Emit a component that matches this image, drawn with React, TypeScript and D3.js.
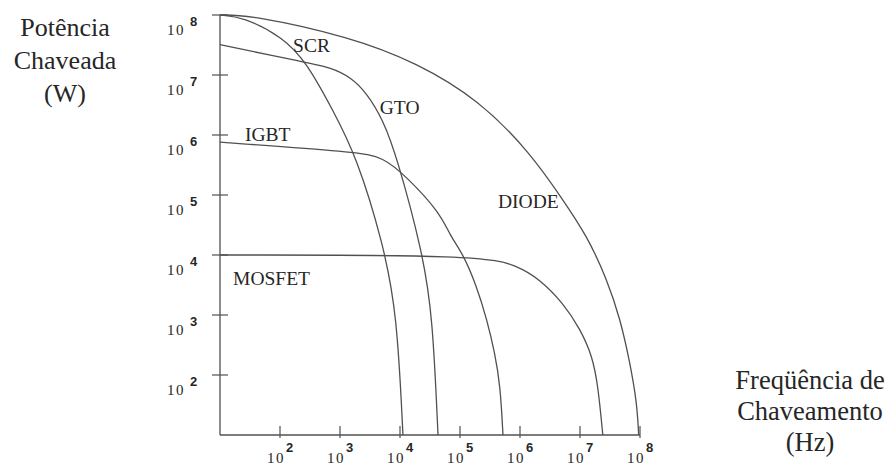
import React, { useRef, useEffect } from "react";
import * as d3 from "d3";

// values (frequency in Hz, switched power in W)
const diodeFreq = [10, 32, 1.5e3, 1.9e4, 2.1e5, 1.5e6, 5.2e6, 1.3e7, 2.8e7, 4.7e7, 6.8e7, 8.9e7, 9.5e7];
const diodePower = [1e8, 1e8, 4.3e7, 1.6e7, 3.8e6, 5e5, 8.3e4, 2.1e4, 4e3, 850, 160, 34, 10];

const scrFreq = [10, 24, 112, 280, 760, 1.9e3, 5.2e3, 8.9e3, 1.12e4];
const scrPower = [1e8, 9.3e7, 4.3e7, 1.6e7, 2.6e6, 4.3e5, 1.6e4, 1.07e3, 10];

const gtoFreq = [10, 280, 680, 1.5e3, 2.8e3, 5.2e3, 8.9e3, 2.4e4, 3.5e4, 4.3e4];
const gtoPower = [3.2e7, 1.6e7, 1.35e7, 9.3e6, 5e6, 1.8e6, 4.3e5, 1.07e4, 930, 10];

const igbtFreq = [10, 1.9e3, 5.2e3, 1.3e4, 4.7e4, 6.8e4, 1.12e5, 1.9e5, 2.8e5, 3.8e5, 4.7e5, 5.2e5];
const igbtPower = [7.6e5, 5.2e5, 4.3e5, 2e5, 5e4, 2.1e4, 1.05e4, 3e3, 850, 234, 66, 10];

const mosfetFreq = [10, 2.4e5, 8.9e5, 2.1e6, 5.2e6, 1e7, 1.6e7, 2e7, 2.4e7];
const mosfetPower = [1e4, 1e4, 6.6e3, 4e3, 1.6e3, 590, 210, 66, 10];

const tickExponents = [2, 3, 4, 5, 6, 7, 8];

// device labels: name, frequency, power at the text baseline start
const labelNames = ["SCR", "GTO", "IGBT", "MOSFET", "DIODE"];
const labelFreq = [165, 4.6e3, 26, 16.5, 4.3e5];
const labelPower = [2.4e7, 2.2e6, 8e5, 3.2e3, 6e4];

const yTitle = ["Potência", "Chaveada", "(W)"];
const xTitle = ["Freqüência de", "Chaveamento", "(Hz)"];

const App = () => {
  const svgRef = useRef<SVGSVGElement>(null);

  useEffect(() => {
    const svg = d3.select(svgRef.current);
    svg.selectAll("*").remove();

    const width = 887;
    const height = 466;
    const ink = "#262626";
    const lineColor = "#505050";

    const x = d3.scaleLog().domain([10, 1e8]).range([220, 640]);
    const y = d3.scaleLog().domain([10, 1e8]).range([435, 15]);

    svg.append("rect").attr("width", width).attr("height", height).attr("fill", "#fff");

    // axes lines
    svg
      .append("line")
      .attr("x1", x(10))
      .attr("x2", x(10))
      .attr("y1", y(1e8))
      .attr("y2", y(10))
      .attr("stroke", lineColor)
      .attr("stroke-width", 1.3);
    svg
      .append("line")
      .attr("x1", x(10))
      .attr("x2", x(1e8))
      .attr("y1", y(10))
      .attr("y2", y(10))
      .attr("stroke", lineColor)
      .attr("stroke-width", 1.3);

    // y ticks
    const yt = svg.append("g");
    tickExponents.forEach((e) => {
      const py = y(Math.pow(10, e));
      yt.append("line")
        .attr("x1", x(10) - 8)
        .attr("x2", x(10) + 8)
        .attr("y1", py)
        .attr("y2", py)
        .attr("stroke", lineColor)
        .attr("stroke-width", 1.2);
      yt.append("text")
        .attr("x", 167)
        .attr("y", py + 20)
        .attr("font-family", "Liberation Serif")
        .attr("font-size", 15)
        .attr("letter-spacing", 1.5)
        .attr("fill", ink)
        .text("10");
      yt.append("text")
        .attr("x", 190)
        .attr("y", py + 11)
        .attr("font-family", "Liberation Sans")
        .attr("font-weight", "bold")
        .attr("font-size", 13)
        .attr("fill", ink)
        .text(String(e));
    });

    // x ticks
    const xt = svg.append("g");
    tickExponents.forEach((e) => {
      const px = x(Math.pow(10, e));
      xt.append("line")
        .attr("x1", px)
        .attr("x2", px)
        .attr("y1", y(10) - 9)
        .attr("y2", y(10) + 3)
        .attr("stroke", lineColor)
        .attr("stroke-width", 1.2);
      xt.append("text")
        .attr("x", px - 13)
        .attr("y", 463)
        .attr("font-family", "Liberation Serif")
        .attr("font-size", 15)
        .attr("letter-spacing", 1.5)
        .attr("fill", ink)
        .text("10");
      xt.append("text")
        .attr("x", px + 6)
        .attr("y", 452)
        .attr("font-family", "Liberation Sans")
        .attr("font-weight", "bold")
        .attr("font-size", 13)
        .attr("fill", ink)
        .text(String(e));
    });

    // device curves
    const series = [
      [diodeFreq, diodePower],
      [scrFreq, scrPower],
      [gtoFreq, gtoPower],
      [igbtFreq, igbtPower],
      [mosfetFreq, mosfetPower],
    ];
    const line = d3
      .line<[number, number]>()
      .x((d) => x(d[0]))
      .y((d) => y(d[1]))
      .curve(d3.curveBasis);

    svg
      .append("g")
      .selectAll("path")
      .data(series)
      .join("path")
      .attr("d", (s) => line(s[0].map((f, i) => [f, s[1][i]] as [number, number])))
      .attr("fill", "none")
      .attr("stroke", lineColor)
      .attr("stroke-width", 1.3);

    // curve labels
    svg
      .append("g")
      .selectAll("text")
      .data(labelNames)
      .join("text")
      .attr("x", (d, i) => x(labelFreq[i]))
      .attr("y", (d, i) => y(labelPower[i]))
      .attr("font-family", "Liberation Serif")
      .attr("font-size", 19.5)
      .attr("fill", ink)
      .text((d) => d);

    // axis titles
    svg
      .append("g")
      .selectAll("text")
      .data(yTitle)
      .join("text")
      .attr("x", 65)
      .attr("y", (d, i) => 36 + i * 33)
      .attr("text-anchor", "middle")
      .attr("font-family", "Liberation Serif")
      .attr("font-size", 26)
      .attr("fill", ink)
      .text((d) => d);

    svg
      .append("g")
      .selectAll("text")
      .data(xTitle)
      .join("text")
      .attr("x", 810)
      .attr("y", (d, i) => 389 + i * 31)
      .attr("text-anchor", "middle")
      .attr("font-family", "Liberation Serif")
      .attr("font-size", 26.5)
      .attr("fill", ink)
      .text((d) => d);
  }, []);

  return (
    <svg
      ref={svgRef}
      width={887}
      height={466}
      style={{ position: "absolute", left: 0, top: 0 }}
    />
  );
};

export default App;
